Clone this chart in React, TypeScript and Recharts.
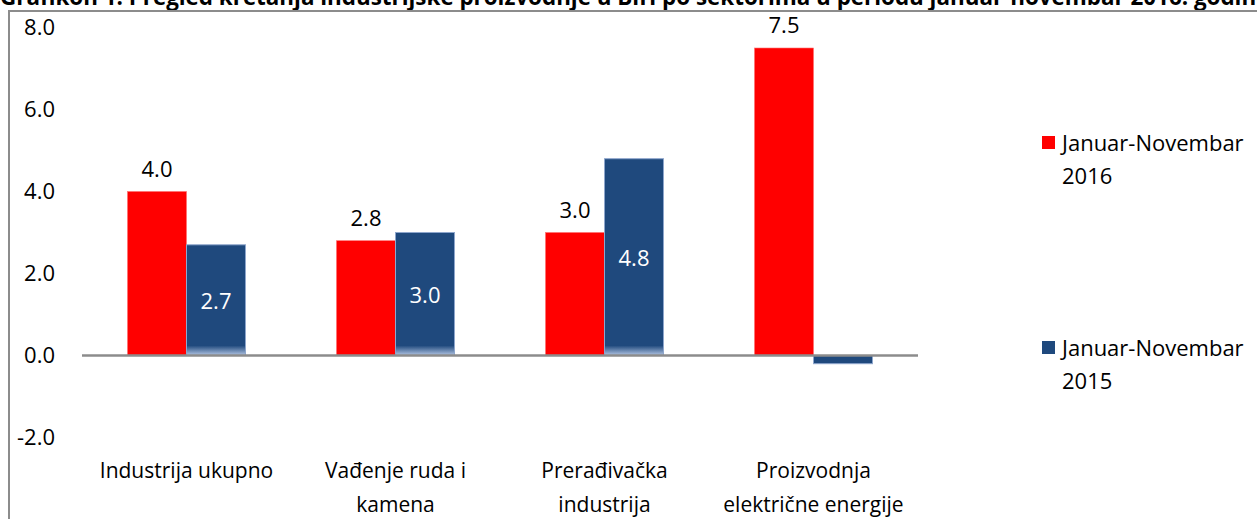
import React from 'react';
import { BarChart, Bar, XAxis, YAxis, ReferenceLine, LabelList } from 'recharts';

const title =
  'Grafikon 1. Pregled kretanja industrijske proizvodnje u BiH po sektorima u periodu januar-novembar 2016. godine';
const categories = [
  'Industrija ukupno',
  'Vađenje ruda i kamena',
  'Prerađivačka industrija',
  'Proizvodnja električne energije',
];
const series2016 = [4.0, 2.8, 3.0, 7.5];
const series2015 = [2.7, 3.0, 4.8, -0.2];
const seriesNames = ['Januar-Novembar 2016', 'Januar-Novembar 2015'];
const yTicks = [-2, 0, 2, 4, 6, 8];

const RED = '#FF0000';
const BLUE = '#1F497D';
const seriesColors = [RED, BLUE];
const FONT = '"Open Sans", sans-serif';

const data = categories.map((c, i) => ({ name: c, v2016: series2016[i], v2015: series2015[i] }));

function wrap(text: string, max: number): string[] {
  const words = text.split(' ');
  const lines: string[] = [];
  let cur = '';
  for (const w of words) {
    const t = cur ? cur + ' ' + w : w;
    if (t.length > max && cur) {
      lines.push(cur);
      cur = w;
    } else cur = t;
  }
  if (cur) lines.push(cur);
  return lines;
}

const XTick = (props: any) => {
  const { x, y, payload } = props;
  const lines = wrap(String(payload.value), 19);
  return (
    <g>
      {lines.map((l, i) => (
        <text key={i} x={x} y={y + 40 + i * 34} textAnchor="middle" fontSize={21} fontFamily={FONT} fill="#000">
          {l}
        </text>
      ))}
    </g>
  );
};

const BlueShape = (props: any) => {
  let { x, y, width, height } = props;
  if (height < 0) {
    y = y + height;
    height = -height;
  }
  const v = Array.isArray(props.value) ? props.value[1] : props.value;
  const positive = v >= 0;
  const g = Math.min(10, height);
  return (
    <g>
      <rect x={x} y={y} width={width} height={height} fill={BLUE} stroke="#8EA6CC" strokeWidth={1} />
      {positive && height > 12 ? (
        <rect x={x + 0.5} y={y + height - g} width={width - 1} height={g} fill="url(#blueFade)" />
      ) : null}
    </g>
  );
};

const RedShape = (props: any) => {
  let { x, y, width, height } = props;
  if (height < 0) {
    y = y + height;
    height = -height;
  }
  return <rect x={x} y={y} width={width} height={height} fill={RED} stroke="#FF6F6F" strokeWidth={0.6} />;
};

const BlueLabel = (props: any) => {
  const { x, y, width, height, value } = props;
  if (value < 0) return null;
  return (
    <text
      x={x + width / 2}
      y={y + height / 2}
      textAnchor="middle"
      dominantBaseline="central"
      fontSize={22}
      fontFamily={FONT}
      fill="#fff"
    >
      {Number(value).toFixed(1)}
    </text>
  );
};

const RedLabel = (props: any) => {
  const { x, y, width, value } = props;
  return (
    <text x={x + width / 2} y={y - 15} textAnchor="middle" fontSize={22} fontFamily={FONT} fill="#000">
      {Number(value).toFixed(1)}
    </text>
  );
};

const LegendBox = () => (
  <div style={{ position: 'absolute', left: 1042, top: 125.5, fontFamily: FONT, fontSize: 22, color: '#000' }}>
    {seriesNames.map((name, i) => {
      const words = name.split(' ');
      const last = words.pop();
      return (
        <div
          key={i}
          style={{ display: 'flex', alignItems: 'flex-start', marginTop: i === 0 ? 0 : 139, lineHeight: '33px' }}
        >
          <div
            style={{ width: 13, height: 13, background: seriesColors[i], marginTop: 10, marginRight: 7, flex: 'none' }}
          />
          <div style={{ whiteSpace: 'nowrap' }}>
            <div>{words.join(' ')}</div>
            <div>{last}</div>
          </div>
        </div>
      );
    })}
  </div>
);

export default function App() {
  return (
    <div style={{ position: 'absolute', left: 0, top: 0, width: 1257, height: 519, overflow: 'hidden', background: '#fff' }}>
      <svg width={1257} height={11} style={{ position: 'absolute', left: 0, top: 0 }}>
        <text x={0} y={5} fontSize={22.4} fontWeight="bold" fontFamily={FONT} fill="#000">
          {title}
        </text>
      </svg>
      <div
        style={{
          position: 'absolute',
          left: 8,
          top: 10,
          width: 1400,
          height: 700,
          borderLeft: '2px solid #8C8C8C',
          borderTop: '2px solid #8C8C8C',
          boxSizing: 'border-box',
        }}
      />
      <div style={{ position: 'absolute', left: 0, top: 0 }}>
        <BarChart
          width={1257}
          height={519}
          data={data}
          margin={{ top: 27.5, right: 339, bottom: 0, left: 0 }}
          barCategoryGap={45.5}
          barGap={0}
        >
          <defs>
            <linearGradient id="blueFade" x1="0" y1="0" x2="0" y2="1">
              <stop offset="0%" stopColor={BLUE} stopOpacity={1} />
              <stop offset="100%" stopColor="#B4C6E4" stopOpacity={1} />
            </linearGradient>
          </defs>
          <XAxis
            dataKey="name"
            axisLine={false}
            tickLine={false}
            tickSize={0}
            tickMargin={0}
            height={81.5}
            tick={<XTick />}
            interval={0}
          />
          <YAxis
            domain={[-2, 8]}
            ticks={yTicks}
            width={82}
            axisLine={false}
            tickLine={false}
            tickSize={0}
            tickMargin={27}
            tickFormatter={(v: number) => v.toFixed(1)}
            tick={{ fontSize: 22, fontFamily: FONT, fill: '#000' }}
            interval={0}
          />
          <ReferenceLine y={0} stroke="#8C8C8C" strokeWidth={2.5} />
          <Bar dataKey="v2016" name={seriesNames[0]} fill={RED} shape={<RedShape />} isAnimationActive={false}>
            <LabelList dataKey="v2016" content={<RedLabel />} />
          </Bar>
          <Bar dataKey="v2015" name={seriesNames[1]} fill={BLUE} shape={<BlueShape />} isAnimationActive={false}>
            <LabelList dataKey="v2015" content={<BlueLabel />} />
          </Bar>
        </BarChart>
      </div>
      <LegendBox />
    </div>
  );
}
